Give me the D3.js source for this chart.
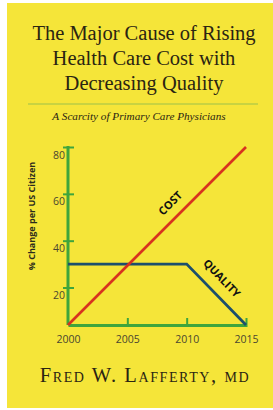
<!DOCTYPE html>
<html lang="en">
<head>
    <meta charset="UTF-8">
    <title>Health Care Cost vs Quality</title>
    <script src="https://d3js.org/d3.v7.min.js"></script>
    <style>
        body { margin: 0; background: #fff; }
        svg { display: block; }
        .title { font-family: "Liberation Serif", serif; fill: #2a2412; }
        .tick-label { font-family: "Open Sans", sans-serif; font-size: 10.5px; fill: #4a4630; }
        .series-label { font-family: "Open Sans", sans-serif; font-weight: 700; font-size: 11px; fill: #111; }
    </style>
</head>
<body>
    <svg></svg>

    <script>
        const years = [2000, 2005, 2010, 2015];
        const yTicks = [20, 40, 60, 80];
        const costYears = [2000, 2015];
        const costValues = [4, 80];
        const qualityYears = [2000, 2010, 2015];
        const qualityValues = [30, 30, 4];

        const titleLines = ['The Major Cause of Rising', 'Health Care Cost with', 'Decreasing Quality'];
        const subtitle = 'A Scarcity of Primary Care Physicians';
        const author = 'Fred W. Lafferty, md';
        const yTitle = '% Change per US Citizen';

        const svgWidth = 273;
        const svgHeight = 410;

        const svg = d3.select('svg')
            .attr('width', svgWidth)
            .attr('height', svgHeight);

        // yellow cover
        svg.append('rect')
            .attr('x', 7).attr('y', 3)
            .attr('width', svgWidth - 7).attr('height', svgHeight - 5)
            .attr('fill', '#f5e539');

        // title
        svg.selectAll('.title-line')
            .data(titleLines)
            .enter()
            .append('text')
            .attr('class', 'title')
            .attr('x', 144)
            .attr('y', (d, i) => 40 + i * 25)
            .attr('text-anchor', 'middle')
            .style('font-size', '20.5px')
            .text(d => d);

        svg.append('line')
            .attr('x1', 28).attr('x2', 258)
            .attr('y1', 104).attr('y2', 104)
            .attr('stroke', '#9cc24a')
            .attr('stroke-width', 1.2);

        svg.append('text')
            .attr('class', 'title')
            .attr('x', 139).attr('y', 120)
            .attr('text-anchor', 'middle')
            .style('font-size', '11.2px')
            .style('font-style', 'italic')
            .text(subtitle);

        // chart
        const x = d3.scaleLinear().domain([2000, 2015]).range([68, 246]);
        const y = d3.scaleLinear().domain([4, 80]).range([325, 147]);

        const axisColor = '#3fa53c';

        const xAxis = svg.append('g')
            .attr('transform', `translate(0, ${y(4)})`)
            .call(d3.axisBottom(x).tickValues(years).tickSizeInner(0).tickSizeOuter(0).tickFormat(d3.format('d')));
        xAxis.select('.domain').attr('stroke', axisColor).attr('stroke-width', 3);
        xAxis.selectAll('.tick line').remove();
        xAxis.selectAll('.tick')
            .filter(d => d !== 2000)
            .append('line')
            .attr('y1', -7).attr('y2', 2)
            .attr('stroke', axisColor).attr('stroke-width', 2);
        xAxis.selectAll('.tick text')
            .attr('class', 'tick-label')
            .attr('y', 18)
            .attr('dy', 0);

        const yAxis = svg.append('g')
            .attr('transform', `translate(${x(2000)}, 0)`)
            .call(d3.axisLeft(y).tickValues(yTicks).tickSizeInner(0).tickSizeOuter(0));
        yAxis.select('.domain')
            .attr('d', `M0,${y(4)}V${y(80) - 1}`)
            .attr('stroke', axisColor).attr('stroke-width', 3);
        yAxis.selectAll('.tick line').remove();
        yAxis.selectAll('.tick')
            .append('line')
            .attr('x1', -5).attr('x2', 6)
            .attr('stroke', axisColor).attr('stroke-width', 2);
        yAxis.selectAll('.tick text')
            .attr('class', 'tick-label')
            .attr('x', -3)
            .attr('y', 11)
            .attr('dy', 0);

        svg.append('text')
            .attr('transform', `translate(35, 216) rotate(-90)`)
            .attr('text-anchor', 'middle')
            .style('font-family', '"Open Sans", sans-serif')
            .style('font-weight', 700)
            .style('font-size', '9px')
            .style('fill', '#2b2a1c')
            .text(yTitle);

        const line = d3.line()
            .x(d => x(d[0]))
            .y(d => y(d[1]));

        svg.append('path')
            .datum(qualityYears.map((yr, i) => [yr, qualityValues[i]]))
            .attr('d', line)
            .attr('fill', 'none')
            .attr('stroke', '#1d4f6c')
            .attr('stroke-width', 2.8);

        svg.append('path')
            .datum(costYears.map((yr, i) => [yr, costValues[i]]))
            .attr('d', line)
            .attr('fill', 'none')
            .attr('stroke', '#d8321f')
            .attr('stroke-width', 2.6);

        // line labels
        svg.append('text')
            .attr('class', 'series-label')
            .attr('transform', `translate(173, 206) rotate(-45)`)
            .attr('text-anchor', 'middle')
            .text('COST');

        svg.append('text')
            .attr('class', 'series-label')
            .attr('transform', `translate(219, 281) rotate(46)`)
            .attr('text-anchor', 'middle')
            .text('QUALITY');

        // author
        svg.append('text')
            .attr('class', 'title')
            .attr('x', 145).attr('y', 382)
            .attr('text-anchor', 'middle')
            .style('font-size', '20.5px')
            .style('font-variant-caps', 'small-caps')
            .style('letter-spacing', '1.6px')
            .text(author);
    </script>
</body>
</html>
